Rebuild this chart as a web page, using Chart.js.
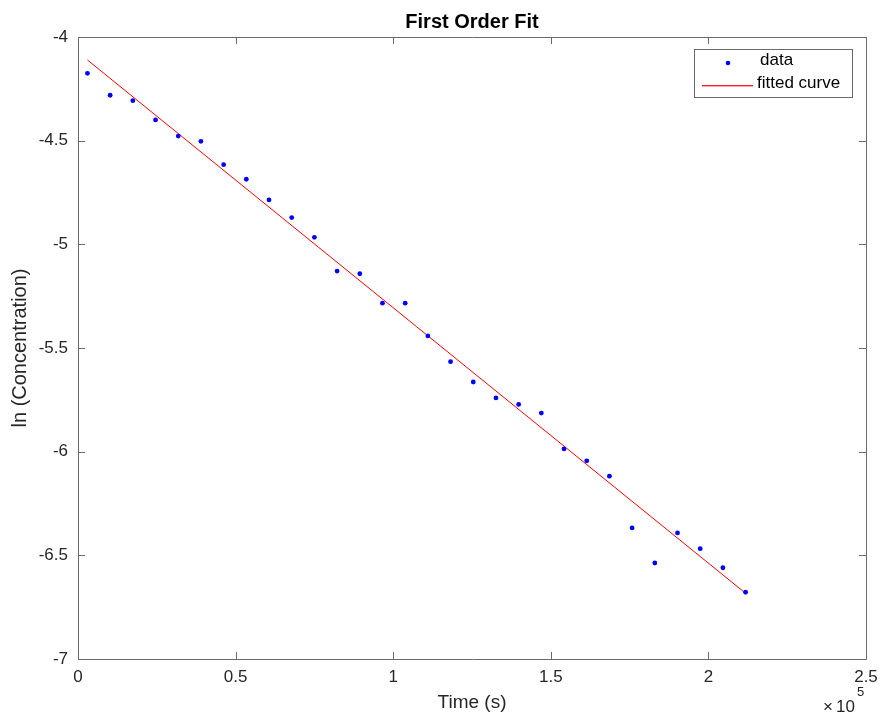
<!DOCTYPE html>
<html>
<head>
<meta charset="utf-8">
<script src="https://cdn.jsdelivr.net/npm/chart.js@4.4.0/dist/chart.umd.min.js"></script>
<style>
html,body{margin:0;padding:0;background:#fff;}
#wrap{width:880px;height:713px;position:relative;}
</style>
</head>
<body>
<div id="wrap"><canvas id="c" width="880" height="713"></canvas></div>
<script>
// Data (time in seconds, natural log of concentration)
const timeS = [3000, 10200, 17400, 24600, 31800, 39000, 46200, 53400, 60600, 67800,
  75000, 82200, 89400, 96600, 103800, 111000, 118200, 125400, 132600, 139800,
  147000, 154200, 161400, 168600, 175800, 183000, 190200, 197400, 204600, 211800];
const lnConc = [-4.175, -4.281, -4.307, -4.400, -4.478, -4.503, -4.616, -4.686, -4.786, -4.871,
  -4.966, -5.129, -5.142, -5.284, -5.284, -5.442, -5.566, -5.664, -5.741, -5.772,
  -5.814, -5.987, -6.044, -6.118, -6.368, -6.537, -6.392, -6.468, -6.560, -6.678];
const fitTime = [3000, 211800];
const fitLn = [-4.111, -6.683];
const xTickValues = [0, 50000, 100000, 150000, 200000, 250000];
const yTickValues = [-7, -6.5, -6, -5.5, -5, -4.5, -4];

const titleText = 'First Order Fit';
const xTitle = 'Time (s)';
const yTitle = 'ln (Concentration)';
const legendLabels = ['data', 'fitted curve'];

const FONT = '"Liberation Sans", Arial, Helvetica, sans-serif';
const TXT = '#262626';
const AX = '#6a6a6a';

const dataPts = timeS.map((t, i) => ({x: t, y: lnConc[i]}));
const fitPts = fitTime.map((t, i) => ({x: t, y: fitLn[i]}));

const decor = {
  id: 'decor',
  afterDraw(chart) {
    const ctx = chart.ctx;
    const a = chart.chartArea;
    const xs = chart.scales.x, ys = chart.scales.y;
    ctx.save();
    // box
    ctx.strokeStyle = AX;
    ctx.lineWidth = 1;
    ctx.beginPath();
    ctx.rect(Math.round(a.left) + 0.5, Math.round(a.top) + 0.5,
             Math.round(a.right - a.left), Math.round(a.bottom - a.top));
    ctx.stroke();
    // inward ticks
    const tl = 7;
    ctx.beginPath();
    xTickValues.forEach(v => {
      const px = Math.round(xs.getPixelForValue(v)) + 0.5;
      ctx.moveTo(px, a.bottom); ctx.lineTo(px, a.bottom - tl);
      ctx.moveTo(px, a.top); ctx.lineTo(px, a.top + tl);
    });
    yTickValues.forEach(v => {
      const py = Math.round(ys.getPixelForValue(v)) + 0.5;
      ctx.moveTo(a.left, py); ctx.lineTo(a.left + tl, py);
      ctx.moveTo(a.right, py); ctx.lineTo(a.right - tl, py);
    });
    ctx.stroke();

    const cx = (a.left + a.right) / 2;
    const cy = (a.top + a.bottom) / 2;
    // title
    ctx.fillStyle = '#000';
    ctx.font = 'bold 20px ' + FONT;
    ctx.textAlign = 'center';
    ctx.textBaseline = 'middle';
    ctx.fillText(titleText, cx, 22);
    // x title
    ctx.fillStyle = TXT;
    ctx.font = '19px ' + FONT;
    ctx.fillText(xTitle, cx, 703);
    // y title
    ctx.save();
    ctx.translate(20, cy);
    ctx.rotate(-Math.PI / 2);
    ctx.font = '20px ' + FONT;
    ctx.fillText(yTitle, 0, 0);
    ctx.restore();
    // exponent
    ctx.textAlign = 'left';
    ctx.font = '17px ' + FONT;
    ctx.fillText('\u00d7', 823, 707);
    ctx.fillText('10', 836, 707);
    ctx.font = '13px ' + FONT;
    ctx.fillText('5', 857, 692);

    // legend
    const lx = 694, ly = 49, lw = 158, lh = 48;
    ctx.fillStyle = '#fff';
    ctx.fillRect(lx, ly, lw, lh);
    ctx.strokeStyle = AX;
    ctx.strokeRect(lx + 0.5, ly + 0.5, lw, lh);
    ctx.fillStyle = '#0000ff';
    ctx.beginPath();
    ctx.arc(728, 63, 2.3, 0, Math.PI * 2);
    ctx.fill();
    ctx.fillStyle = '#ff2020';
    ctx.fillRect(702, 85, 51, 1);
    ctx.fillStyle = 'rgba(255,0,0,0.35)';
    ctx.fillRect(702, 86, 51, 1);
    ctx.fillStyle = '#000';
    ctx.font = '17px ' + FONT;
    ctx.textBaseline = 'middle';
    ctx.fillText(legendLabels[0], 760, 60);
    ctx.fillText(legendLabels[1], 757, 83);
    ctx.restore();
  }
};

new Chart(document.getElementById('c'), {
  type: 'scatter',
  data: {
    datasets: [
      {
        label: legendLabels[0],
        data: dataPts,
        showLine: false,
        pointRadius: 2.4,
        pointBorderWidth: 0,
        pointBackgroundColor: '#0000ff',
        pointBorderColor: '#0000ff',
        pointHoverRadius: 2.4
      },
      {
        label: legendLabels[1],
        data: fitPts,
        showLine: true,
        borderColor: '#ff0000',
        borderWidth: 1,
        pointRadius: 0,
        pointHoverRadius: 0,
        fill: false
      }
    ]
  },
  options: {
    responsive: false,
    animation: false,
    events: [],
    layout: {padding: {top: 37, right: 14, left: 0, bottom: 0}},
    plugins: {legend: {display: false}, title: {display: false}, tooltip: {enabled: false}},
    scales: {
      x: {
        type: 'linear',
        min: 0, max: 250000,
        afterFit(s) { s.height = 54; s.paddingLeft = 0; s.paddingRight = 0; },
        afterBuildTicks(s) { s.ticks = xTickValues.map(v => ({value: v})); },
        grid: {display: false, drawTicks: false},
        border: {display: false},
        ticks: {
          color: TXT,
          font: {family: FONT, size: 17},
          padding: 8,
          maxRotation: 0,
          autoSkip: false,
          callback: v => String(v / 100000)
        }
      },
      y: {
        type: 'linear',
        min: -7, max: -4,
        afterFit(s) { s.width = 78; s.paddingTop = 0; s.paddingBottom = 0; },
        afterBuildTicks(s) { s.ticks = yTickValues.map(v => ({value: v})); },
        grid: {display: false, drawTicks: false},
        border: {display: false},
        ticks: {
          color: TXT,
          font: {family: FONT, size: 17},
          padding: 10,
          autoSkip: false,
          callback: v => String(v)
        }
      }
    }
  },
  plugins: [decor]
});
</script>
</body>
</html>
